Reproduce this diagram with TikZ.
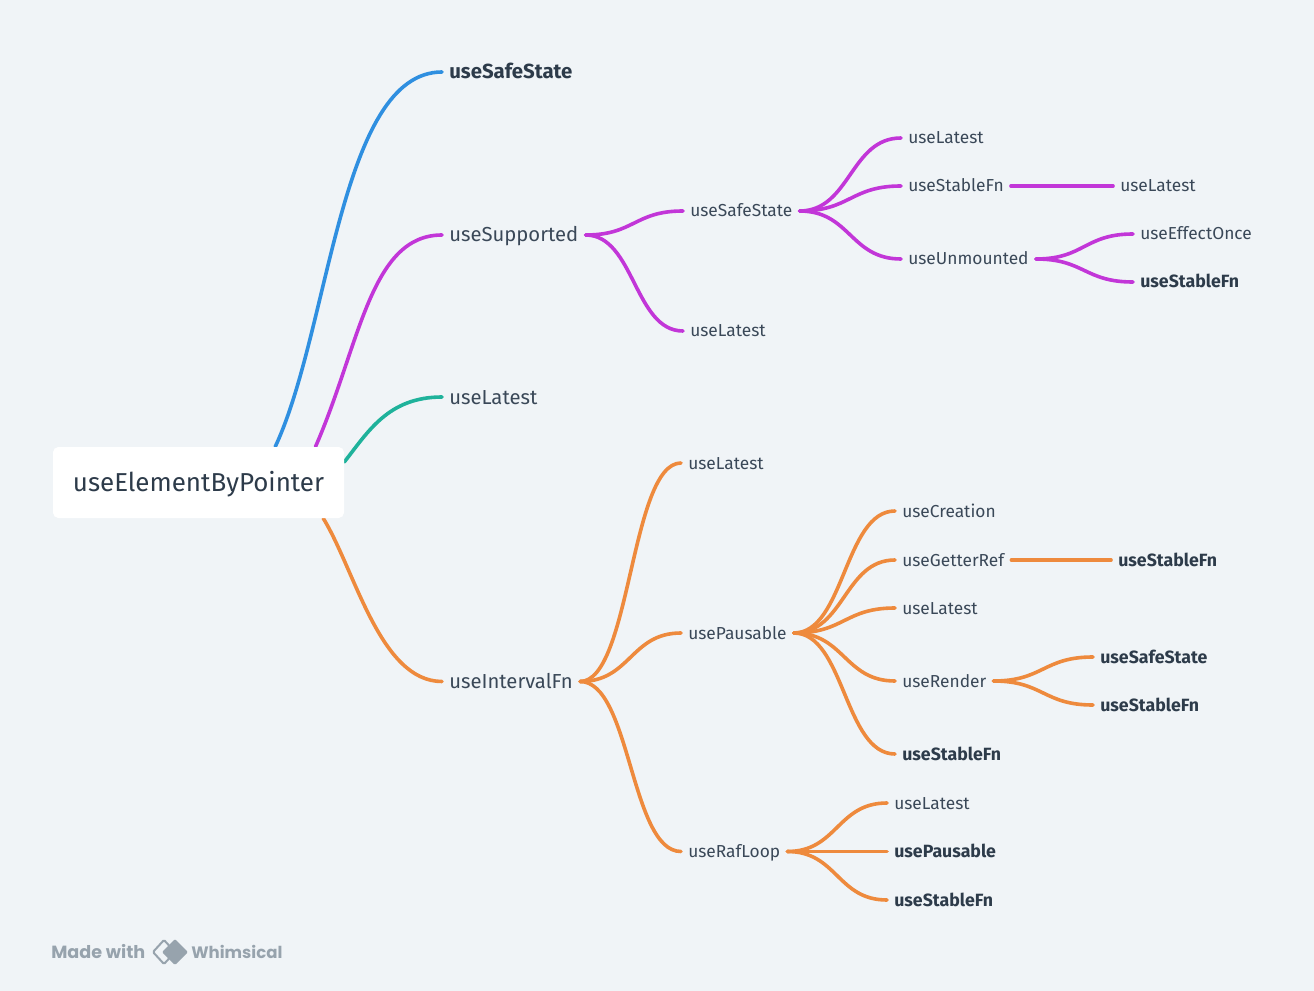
\documentclass[tikz,border=0pt]{standalone}
\usepackage{fontspec}
\setmainfont{Fira Sans}
\newfontfamily\footfont{Poppins}
\usetikzlibrary{calc,backgrounds}
\definecolor{pagebg}{HTML}{F0F4F7}
\definecolor{inkc}{HTML}{3A4858}
\definecolor{inkbold}{HTML}{2D3B4A}
\definecolor{footc}{HTML}{97A3AD}
\definecolor{bluec}{HTML}{2F8FE0}
\definecolor{purplec}{HTML}{C236D8}
\definecolor{tealc}{HTML}{1FB29B}
\definecolor{orangec}{HTML}{EE8A3D}
\tikzset{
  topic/.style={anchor=west,inner xsep=5.25pt,inner ysep=0pt,text=inkc,font=\fontsize{15.2}{18}\selectfont,text height=10.5pt,text depth=0pt},
  subtopic/.style={anchor=west,inner xsep=5.25pt,inner ysep=0pt,text=inkc,font=\fontsize{13}{15}\selectfont,text height=9pt,text depth=0pt},
  boldtopic/.style={subtopic,text=inkbold,font=\fontsize{13.3}{15}\selectfont\bfseries},
  branch/.style={to path={.. controls ($(\tikztostart)!.5!(\tikztotarget |- \tikztostart)$) and ($(\tikztotarget)!.5!(\tikztostart |- \tikztotarget)$) .. (\tikztotarget)}},
  trunk/.style={line width=2.7pt,line cap=round}
}
\begin{document}
\begin{tikzpicture}[x=0.75pt,y=-0.75pt]
  \useasboundingbox (0,0) rectangle (1314,991);
  \node [fill=white,rounded corners=4pt,minimum width=218.25pt,minimum height=53.25pt,inner sep=0pt,text=inkbold,font=\fontsize{19.45}{23}\selectfont,text height=15pt,text depth=1.2pt] (root) at (198.5,482.5) {useElementByPointer};

  \node [topic,font=\fontsize{15.3}{18}\selectfont\bfseries,text=inkbold] (safe) at (442,72) {useSafeState};
  \node [topic] (supported) at (442,235) {useSupported};
  \node [topic] (latest) at (442,397) {useLatest};
  \node [topic] (interval) at (442,681.5) {useIntervalFn};

  \node [subtopic] (safetwo) at (683,211) {useSafeState};
  \node [subtopic] (latesttwo) at (683,331) {useLatest};
  \node [subtopic] (latestthree) at (901,138) {useLatest};
  \node [subtopic] (stable) at (901,186) {useStableFn};
  \node [subtopic] (unmounted) at (901,259) {useUnmounted};
  \node [subtopic] (latestfour) at (1113,186) {useLatest};
  \node [subtopic] (effect) at (1133,234) {useEffectOnce};
  \node [boldtopic] (stabletwo) at (1133,282) {useStableFn};

  \node [subtopic] (latestfive) at (681,463) {useLatest};
  \node [subtopic] (pausable) at (681,633) {usePausable};
  \node [subtopic] (raf) at (681,851.5) {useRafLoop};
  \node [subtopic] (creation) at (895,511) {useCreation};
  \node [subtopic] (getter) at (895,560) {useGetterRef};
  \node [subtopic] (latestsix) at (895,608) {useLatest};
  \node [subtopic] (render) at (895,681) {useRender};
  \node [boldtopic] (stablethree) at (895,754) {useStableFn};
  \node [boldtopic] (stablefour) at (1111,560) {useStableFn};
  \node [boldtopic] (safethree) at (1093,657) {useSafeState};
  \node [boldtopic] (stablefive) at (1093,705) {useStableFn};
  \node [subtopic] (latestseven) at (887,803) {useLatest};
  \node [boldtopic] (pausabletwo) at (887,851.5) {usePausable};
  \node [boldtopic] (stablesix) at (887,900) {useStableFn};

  \node [anchor=west,inner sep=0pt,text=footc,font=\footfont\fontsize{13.2}{16}\selectfont\bfseries] (madewith) at (51,952) {Made with};
  \node [anchor=west,inner sep=0pt,text=footc,font=\footfont\fontsize{12.4}{16}\selectfont\bfseries] (whimsical) at (191,952) {Whimsical};
  \draw [footc,line width=1.5pt,rounded corners=1pt] (164,940) -- (153,952) -- (164,964) -- (175,952) -- cycle;
  \fill [footc,rounded corners=1pt] (175,939) -- (188,952) -- (175,965) -- (162,952) -- cycle;

  \begin{scope}[on background layer]
    \fill [pagebg] (0,0) rectangle (1314,991);
    \draw [trunk,bluec] (root.25.5) .. controls (330,330) and (340,72) .. (safe.west);
    \draw [trunk,purplec] (root.17.6) .. controls (360,345) and (370,235) .. (supported.west);
    \draw [trunk,tealc] (root.8.7) .. controls (368,432) and (388,397) .. (latest.west);
    \draw [trunk,orangec] (root.-16) .. controls (355,570) and (380,681.5) .. (interval.west);

    \draw [trunk,purplec] (supported.east) to [branch] (safetwo.west);
    \draw [trunk,purplec] (supported.east) to [branch] (latesttwo.west);
    \draw [trunk,purplec] (safetwo.east) to [branch] (latestthree.west);
    \draw [trunk,purplec] (safetwo.east) to [branch] (stable.west);
    \draw [trunk,purplec] (safetwo.east) to [branch] (unmounted.west);
    \draw [trunk,purplec] (stable.east) to [branch] (latestfour.west);
    \draw [trunk,purplec] (unmounted.east) to [branch] (effect.west);
    \draw [trunk,purplec] (unmounted.east) to [branch] (stabletwo.west);

    \draw [trunk,orangec] (interval.east) to [branch] (latestfive.west);
    \draw [trunk,orangec] (interval.east) to [branch] (pausable.west);
    \draw [trunk,orangec] (interval.east) to [branch] (raf.west);
    \draw [trunk,orangec] (pausable.east) to [branch] (creation.west);
    \draw [trunk,orangec] (pausable.east) to [branch] (getter.west);
    \draw [trunk,orangec] (pausable.east) to [branch] (latestsix.west);
    \draw [trunk,orangec] (pausable.east) to [branch] (render.west);
    \draw [trunk,orangec] (pausable.east) to [branch] (stablethree.west);
    \draw [trunk,orangec] (getter.east) to [branch] (stablefour.west);
    \draw [trunk,orangec] (render.east) to [branch] (safethree.west);
    \draw [trunk,orangec] (render.east) to [branch] (stablefive.west);
    \draw [trunk,orangec] (raf.east) to [branch] (latestseven.west);
    \draw [trunk,orangec] (raf.east) to [branch] (pausabletwo.west);
    \draw [trunk,orangec] (raf.east) to [branch] (stablesix.west);
  \end{scope}
\end{tikzpicture}
\end{document}
